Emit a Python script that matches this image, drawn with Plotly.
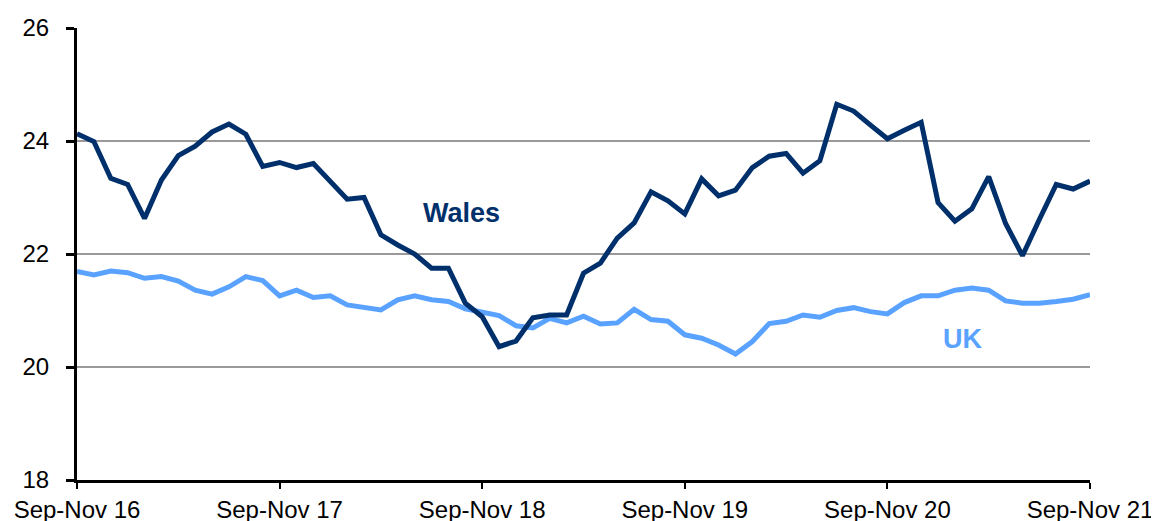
import plotly.graph_objects as go

months = ["Jan", "Feb", "Mar", "Apr", "May", "Jun", "Jul", "Aug", "Sep", "Oct", "Nov", "Dec"]
# rolling three-month periods, Sep-Nov 2016 to Sep-Nov 2021
periods = []
for k in range(61):
    m = (8 + k) % 12
    yr = 16 + (8 + k + 2) // 12
    periods.append(f"{months[m]}-{months[(m + 2) % 12]} {yr}")

wales = [24.13, 23.99, 23.34, 23.23, 22.63, 23.31, 23.74, 23.91, 24.16, 24.30,
         24.12, 23.55, 23.62, 23.53, 23.60, 23.29, 22.97, 23.00, 22.34, 22.16,
         22.00, 21.75, 21.75, 21.13, 20.89, 20.36, 20.46, 20.87, 20.92, 20.92,
         21.66, 21.84, 22.28, 22.55, 23.10, 22.94, 22.71, 23.33, 23.03, 23.13,
         23.53, 23.73, 23.78, 23.43, 23.65, 24.65, 24.53, 24.28, 24.04, 24.19,
         24.33, 22.91, 22.58, 22.80, 23.37, 22.54, 21.97, 22.61, 23.23, 23.15,
         23.29]

uk = [21.69, 21.63, 21.70, 21.67, 21.57, 21.60, 21.52, 21.36, 21.29, 21.42,
      21.60, 21.53, 21.26, 21.36, 21.23, 21.26, 21.10, 21.06, 21.01, 21.19,
      21.26, 21.19, 21.16, 21.03, 20.98, 20.91, 20.73, 20.69, 20.86, 20.78,
      20.90, 20.76, 20.78, 21.02, 20.84, 20.81, 20.57, 20.51, 20.39, 20.23,
      20.45, 20.77, 20.81, 20.92, 20.88, 21.00, 21.05, 20.98, 20.94, 21.14,
      21.26, 21.26, 21.36, 21.40, 21.36, 21.17, 21.13, 21.13, 21.16, 21.20,
      21.28]

tick_labels = ["Sep-Nov 16", "Sep-Nov 17", "Sep-Nov 18", "Sep-Nov 19", "Sep-Nov 20", "Sep-Nov 21"]
tick_positions = [periods[i] for i in range(0, 61, 12)]

WALES_COLOR = "#00306B"
UK_COLOR = "#5AA2FF"

fig = go.Figure()
fig.add_trace(go.Scatter(x=periods, y=uk, mode="lines", name="UK",
                         line=dict(color=UK_COLOR, width=5), showlegend=False))
fig.add_trace(go.Scatter(x=periods, y=wales, mode="lines", name="Wales",
                         line=dict(color=WALES_COLOR, width=5), showlegend=False))

fig.add_annotation(x=22.75, y=22.73, xref="x", yref="y", text="<b>Wales</b>",
                   showarrow=False, font=dict(size=27, color=WALES_COLOR, family="Liberation Sans"))
fig.add_annotation(x=52.43, y=20.50, xref="x", yref="y", text="<b>UK</b>",
                   showarrow=False, font=dict(size=27, color=UK_COLOR, family="Liberation Sans"))

# page body has an 8px margin, so the figure is offset by (8, 8) in the window
fig.update_layout(
    width=1159, height=521,
    margin=dict(l=69, r=77, t=20, b=49, autoexpand=False),
    paper_bgcolor="white", plot_bgcolor="white",
    font=dict(family="Liberation Sans", size=24, color="black"),
)
fig.update_xaxes(
    type="category", range=[0, 60],
    tickmode="array", tickvals=tick_positions, ticktext=tick_labels,
    ticks="outside", ticklen=6, tickwidth=2, tickcolor="black",
    showline=True, linecolor="black", linewidth=3,
    showgrid=False, zeroline=False, tickangle=0, automargin=False,
)
fig.update_yaxes(
    range=[18, 26], tickvals=[18, 20, 22, 24, 26],
    ticks="outside", ticklen=8, tickwidth=3, tickcolor="black",
    ticklabelstandoff=12,
    showline=True, linecolor="black", linewidth=3,
    showgrid=True, gridcolor="#999999", gridwidth=1.5, zeroline=False,
    automargin=False,
)

fig.write_html("out.html")
